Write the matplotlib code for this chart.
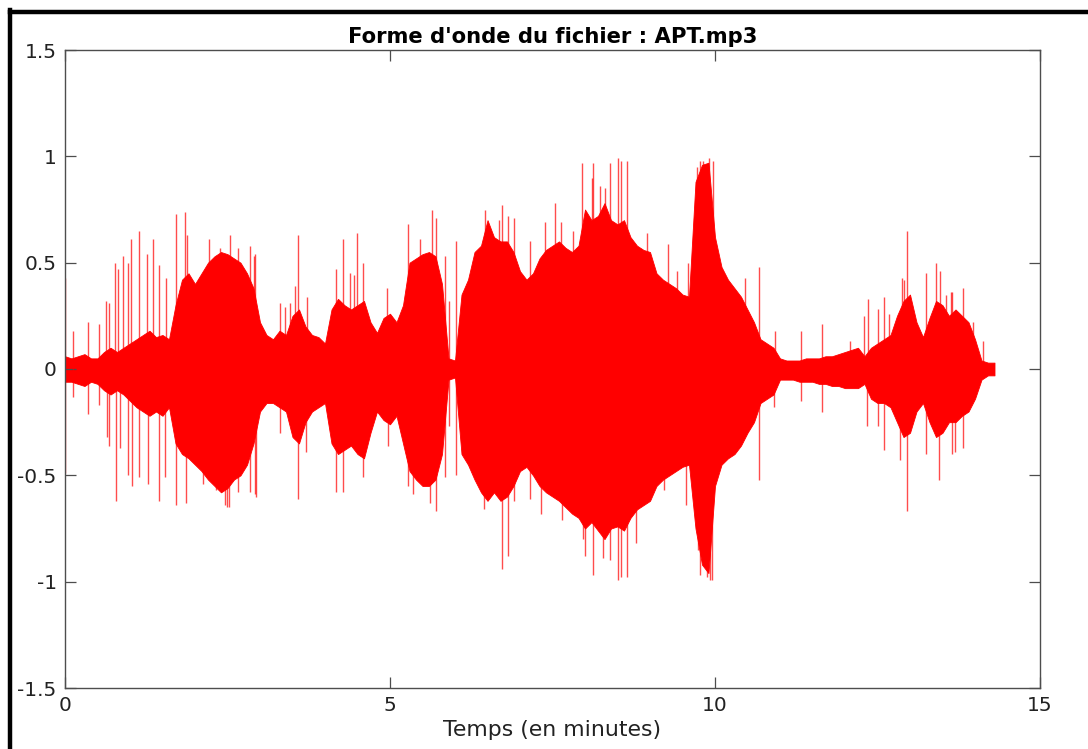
import numpy as np
import matplotlib
matplotlib.use("Agg")
import matplotlib.pyplot as plt
from matplotlib.lines import Line2D

# ---------------- data ----------------
title = "Forme d'onde du fichier : APT.mp3"
xlabel = "Temps (en minutes)"
x_ticks = [0, 5, 10, 15]
x_tick_labels = ["0", "5", "10", "15"]
y_ticks = [-1.5, -1, -0.5, 0, 0.5, 1, 1.5]
y_tick_labels = ["-1.5", "-1", "-0.5", "0", "0.5", "1", "1.5"]

# dense body of the waveform, sampled every 0.1 minute (0.0 .. 14.3)
env_t = [round(0.1 * i, 1) for i in range(144)]
env_top = [
    0.06, 0.05, 0.06, 0.07, 0.05, 0.05, 0.08, 0.10, 0.08, 0.10,   # 0.0-0.9
    0.12, 0.14, 0.16, 0.18, 0.15, 0.16, 0.14, 0.30, 0.42, 0.45,   # 1.0-1.9
    0.40, 0.45, 0.50, 0.53, 0.55, 0.54, 0.52, 0.50, 0.45, 0.38,   # 2.0-2.9
    0.22, 0.16, 0.14, 0.18, 0.16, 0.25, 0.28, 0.20, 0.16, 0.15,   # 3.0-3.9
    0.12, 0.28, 0.33, 0.30, 0.28, 0.30, 0.32, 0.22, 0.17, 0.24,   # 4.0-4.9
    0.26, 0.22, 0.30, 0.50, 0.52, 0.54, 0.55, 0.53, 0.40, 0.05,   # 5.0-5.9
    0.04, 0.35, 0.42, 0.55, 0.58, 0.70, 0.62, 0.60, 0.60, 0.55,   # 6.0-6.9
    0.46, 0.42, 0.45, 0.52, 0.56, 0.58, 0.60, 0.57, 0.55, 0.58,   # 7.0-7.9
    0.75, 0.70, 0.72, 0.78, 0.70, 0.68, 0.70, 0.62, 0.58, 0.56,   # 8.0-8.9
    0.55, 0.45, 0.42, 0.40, 0.38, 0.35, 0.34, 0.88, 0.96, 0.97,   # 9.0-9.9
    0.62, 0.48, 0.42, 0.38, 0.34, 0.28, 0.22, 0.14, 0.12, 0.10,   # 10.0-10.9
    0.05, 0.04, 0.04, 0.04, 0.05, 0.05, 0.05, 0.06, 0.06, 0.07,   # 11.0-11.9
    0.08, 0.09, 0.10, 0.06, 0.10, 0.12, 0.14, 0.16, 0.25, 0.32,   # 12.0-12.9
    0.35, 0.22, 0.15, 0.24, 0.32, 0.30, 0.25, 0.28, 0.25, 0.22,   # 13.0-13.9
    0.14, 0.04, 0.03, 0.03,                                       # 14.0-14.3
]
env_bot = [
    -0.06, -0.06, -0.07, -0.08, -0.06, -0.07, -0.10, -0.12, -0.10, -0.12,
    -0.15, -0.18, -0.20, -0.22, -0.20, -0.22, -0.18, -0.35, -0.40, -0.42,
    -0.45, -0.48, -0.52, -0.55, -0.58, -0.56, -0.52, -0.50, -0.45, -0.35,
    -0.20, -0.16, -0.16, -0.18, -0.20, -0.32, -0.35, -0.25, -0.20, -0.18,
    -0.16, -0.35, -0.40, -0.38, -0.36, -0.40, -0.42, -0.30, -0.20, -0.24,
    -0.26, -0.22, -0.35, -0.48, -0.52, -0.55, -0.55, -0.52, -0.40, -0.05,
    -0.04, -0.40, -0.45, -0.52, -0.58, -0.62, -0.58, -0.62, -0.60, -0.55,
    -0.48, -0.46, -0.50, -0.55, -0.58, -0.60, -0.62, -0.65, -0.68, -0.70,
    -0.75, -0.72, -0.76, -0.80, -0.75, -0.74, -0.76, -0.70, -0.66, -0.64,
    -0.62, -0.55, -0.52, -0.50, -0.48, -0.46, -0.45, -0.75, -0.92, -0.96,
    -0.55, -0.45, -0.42, -0.40, -0.36, -0.30, -0.25, -0.16, -0.14, -0.12,
    -0.05, -0.05, -0.05, -0.06, -0.06, -0.06, -0.07, -0.07, -0.08, -0.08,
    -0.09, -0.09, -0.09, -0.07, -0.14, -0.16, -0.16, -0.18, -0.25, -0.32,
    -0.30, -0.20, -0.16, -0.25, -0.32, -0.30, -0.25, -0.25, -0.22, -0.20,
    -0.14, -0.05, -0.03, -0.03,
]

# isolated positive peaks (time in minutes, amplitude)
up_t = [0.0, 0.13, 0.36, 0.53, 0.63, 0.68, 0.77, 0.82, 0.89, 0.97, 1.02, 1.14,
        1.26, 1.36, 1.44, 1.55, 1.70, 1.84, 1.88, 2.21, 2.38, 2.54, 2.66, 2.85,
        2.90, 2.92, 3.30, 3.38, 3.46, 3.54, 3.59, 3.72, 4.17, 4.27, 4.38, 4.44,
        4.49, 4.59, 4.95, 5.27, 5.46, 5.64, 5.71, 5.84, 5.91, 6.01, 6.46, 6.67,
        6.72, 6.82, 6.91, 7.15, 7.38, 7.54, 7.63, 7.81, 7.96, 8.11, 8.13, 8.23,
        8.31, 8.38, 8.51, 8.56, 8.64, 8.95, 9.27, 9.41, 9.59, 9.66, 9.72, 9.77,
        9.82, 9.90, 9.97, 10.46, 10.68, 10.92, 11.33, 11.65, 12.07, 12.29, 12.35,
        12.51, 12.60, 12.68, 12.87, 12.90, 12.96, 13.24, 13.40, 13.46, 13.56,
        13.63, 13.65, 13.82, 13.97, 14.12]
up_v = [0.43, 0.18, 0.22, 0.21, 0.32, 0.31, 0.50, 0.47, 0.53, 0.50, 0.61, 0.65,
        0.54, 0.61, 0.49, 0.43, 0.73, 0.74, 0.63, 0.61, 0.57, 0.63, 0.57, 0.58,
        0.53, 0.54, 0.31, 0.29, 0.31, 0.39, 0.63, 0.34, 0.47, 0.61, 0.45, 0.44,
        0.64, 0.50, 0.38, 0.68, 0.61, 0.75, 0.71, 0.53, 0.32, 0.60, 0.75, 0.70,
        0.77, 0.72, 0.71, 0.60, 0.69, 0.78, 0.69, 0.65, 0.97, 0.90, 0.97, 0.86,
        0.85, 0.97, 0.99, 0.98, 0.98, 0.64, 0.59, 0.46, 0.50, 0.52, 0.95, 0.98,
        0.98, 0.99, 0.98, 0.43, 0.48, 0.18, 0.18, 0.21, 0.13, 0.25, 0.33,
        0.28, 0.34, 0.26, 0.43, 0.42, 0.65, 0.45, 0.50, 0.46, 0.35,
        0.36, 0.36, 0.38, 0.22, 0.13]

# isolated negative peaks (time in minutes, amplitude)
dn_t = [0.0, 0.13, 0.36, 0.53, 0.64, 0.68, 0.79, 0.84, 0.97, 1.03, 1.14, 1.27,
        1.44, 1.54, 1.70, 1.86, 2.13, 2.33, 2.46, 2.49, 2.53, 2.66, 2.85, 2.92,
        2.94, 3.30, 3.59, 3.70, 4.17, 4.27, 4.59, 4.97, 5.28, 5.36, 5.62, 5.71,
        5.84, 5.91, 6.02, 6.44, 6.72, 6.82, 6.91, 7.15, 7.33, 7.64, 7.97, 8.00,
        8.13, 8.28, 8.38, 8.51, 8.56, 8.64, 8.79, 9.21, 9.56, 9.74, 9.77, 9.87,
        9.93, 9.95, 10.68, 10.91, 11.33, 11.65, 12.34, 12.51, 12.60, 12.85, 12.96,
        13.24, 13.45, 13.64, 13.69, 13.82]
dn_v = [-0.49, -0.13, -0.21, -0.17, -0.32, -0.36, -0.62, -0.37, -0.50, -0.55,
        -0.51, -0.54, -0.62, -0.51, -0.64, -0.63, -0.54, -0.57, -0.64, -0.65,
        -0.65, -0.58, -0.58, -0.59, -0.60, -0.30, -0.61, -0.39, -0.58, -0.58,
        -0.51, -0.36, -0.55, -0.59, -0.63, -0.67, -0.51, -0.27, -0.50, -0.66,
        -0.94, -0.88, -0.62, -0.61, -0.68, -0.71, -0.80, -0.88, -0.97, -0.89,
        -0.90, -0.99, -0.98, -0.98, -0.82, -0.57, -0.64, -0.85, -0.97, -0.98,
        -0.99, -0.99, -0.52, -0.18, -0.15, -0.20, -0.27, -0.27, -0.38, -0.43,
        -0.67, -0.40, -0.52, -0.40, -0.39, -0.37]

# ---------------- figure ----------------
plt.rcParams['font.family'] = ['DejaVu Sans']
plt.rcParams['axes.unicode_minus'] = False

W, H = 1088, 749
fig = plt.figure(figsize=(W / 100, H / 100), dpi=100)
fig.patch.set_facecolor('white')
ax = fig.add_axes([65 / W, 1 - 688 / H, (1040 - 65) / W, (688 - 50) / H])

red = '#ff0000'
ax.fill_between(env_t, env_bot, env_top, color=red, linewidth=0.6, edgecolor=red)
ax.vlines(up_t, 0, up_v, color=red, linewidth=1.0, alpha=0.7)
ax.vlines(dn_t, dn_v, 0, color=red, linewidth=1.0, alpha=0.7)

ax.set_xlim(0, 15)
ax.set_ylim(-1.5, 1.5)
ax.set_xticks(x_ticks)
ax.set_xticklabels(x_tick_labels)
ax.set_yticks(y_ticks)
ax.set_yticklabels(y_tick_labels)

spine_c = '#4d4d4d'
for s in ax.spines.values():
    s.set_color(spine_c)
    s.set_linewidth(1.0)
ax.tick_params(direction='in', length=8, width=0.9, color=spine_c,
               top=True, right=True, labelsize=14.5, labelcolor='#222222', pad=6)

ax.set_title(title, fontsize=15.2, fontweight='bold', pad=5, color='black')
ax.set_xlabel(xlabel, fontsize=15.8, labelpad=3, color='#222222')

# black frame around the figure (left and top edges)
fig.add_artist(Line2D([10 / W, 10 / W], [0, 1 - 10 / H], transform=fig.transFigure,
                      color='black', linewidth=3.2, solid_capstyle='projecting'))
fig.add_artist(Line2D([10 / W, 1], [1 - 12 / H, 1 - 12 / H], transform=fig.transFigure,
                      color='black', linewidth=3.2, solid_capstyle='projecting'))

fig.savefig('out.png', dpi=100)
